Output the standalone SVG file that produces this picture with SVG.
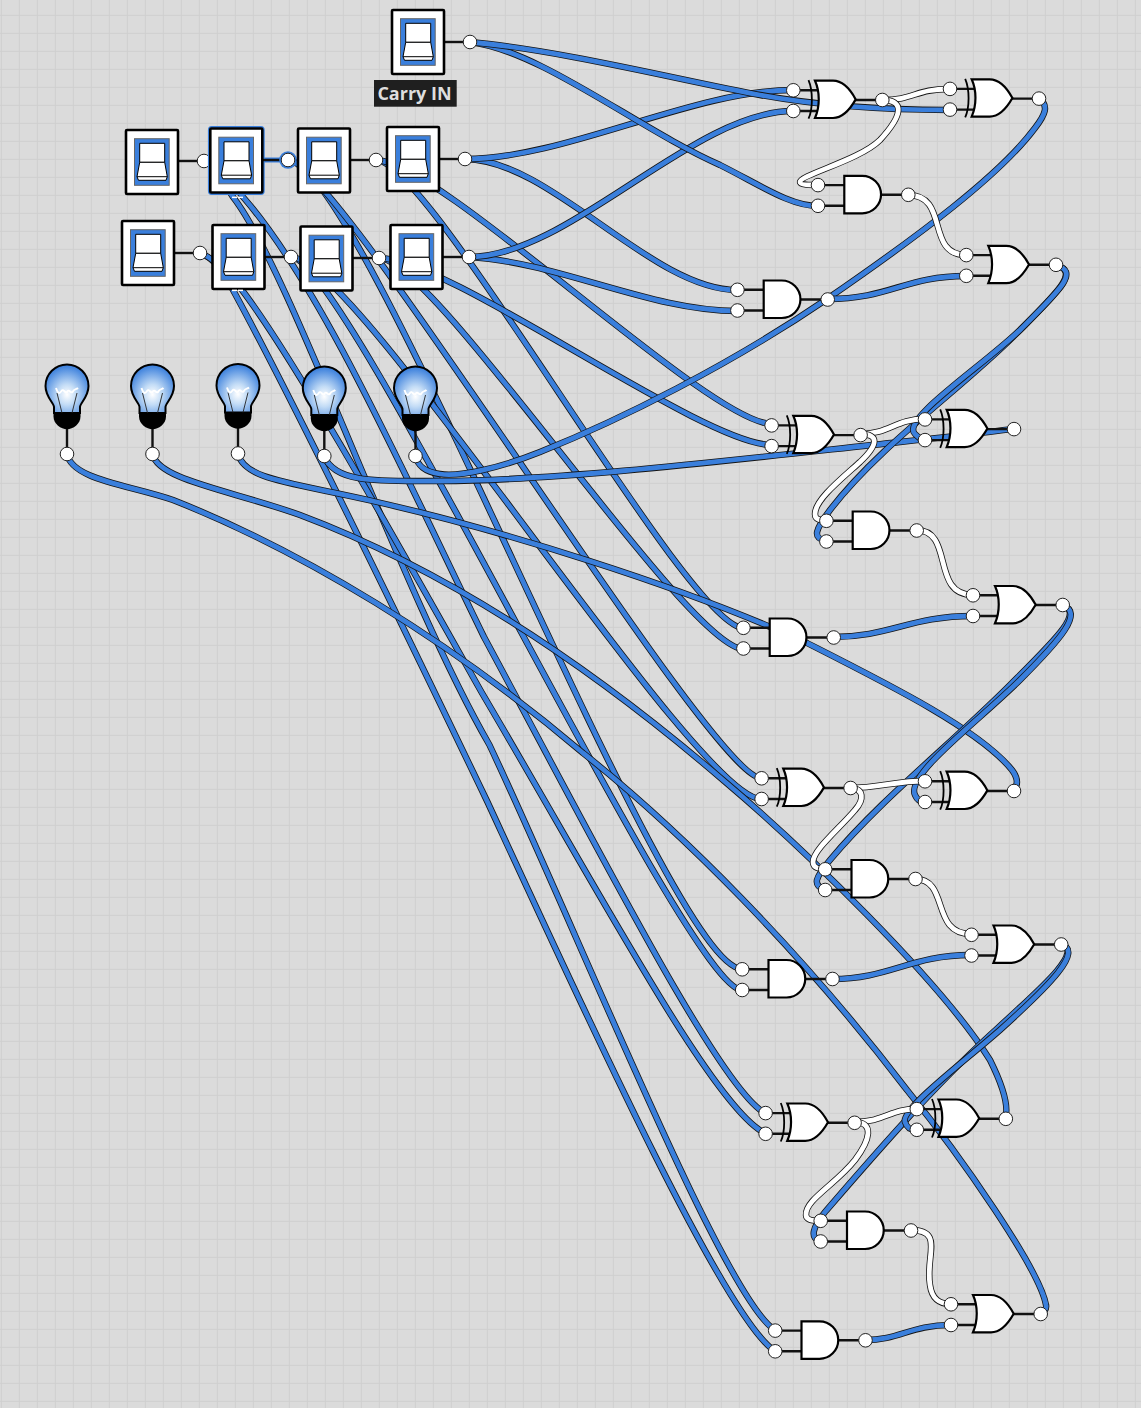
<svg xmlns="http://www.w3.org/2000/svg" width="1141" height="1408" viewBox="0 0 1141 1408">
<style>
.o{fill:none;stroke:#141414;stroke-width:6.4}
.b{fill:none;stroke:#3a7fdc;stroke-width:4.8}
.w{fill:none;stroke:#fff;stroke-width:4.8}
.lead{stroke:#111;stroke-width:2.4;fill:none}
.port{fill:#fff;stroke:#222;stroke-width:1}
.gate{fill:#fff;stroke:#000;stroke-width:2.2;stroke-linejoin:miter}
.arc{fill:none;stroke:#000;stroke-width:1.8}
.box{fill:#fff;stroke:#000;stroke-width:2.6}
.panel{fill:#3a7fdc;stroke:#666;stroke-width:1}
.rock{fill:#fff;stroke:#000;stroke-width:1}
.fil{fill:none;stroke:#fff;stroke-width:1.9}
.thin{fill:none;stroke:#222;stroke-width:.9}
.label{font-family:"Open Sans","DejaVu Sans",sans-serif;font-size:18px;font-weight:700;fill:#dedede;text-anchor:middle}
</style>
<defs>
<pattern id="grid" x="0.8" y="14.8" width="18" height="18" patternUnits="userSpaceOnUse"><path d="M.5,0V18M0,.5H18" stroke="#cfcfcf" stroke-width="1" fill="none"/></pattern>
<radialGradient id="glow" cx=".5" cy=".62" r=".6"><stop offset="0" stop-color="#fff"/><stop offset=".35" stop-color="#c3dcf6"/><stop offset="1" stop-color="#3a7fdc"/></radialGradient>
<g id="switch"><rect class="box" x="0" y="0" width="52" height="64" rx="1"/><rect class="panel" x="8.500" y="8.700" width="34.700" height="46.600"/><path class="rock" d="M13.700,13.300H38.700V32.300H13.700Z"/><path class="rock" d="M13.700,32.300H38.700L41.300,46.700L40,50.300H12.500L11,46.700Z"/><path class="rock" d="M11,46.700H41.300"/></g>
<g id="bulb"><path class="lead" d="M0,0V-28"/><path d="M-13,-41V-47C-13,-51 -21.500,-57 -21.500,-68A21.500,21.500 0 1 1 21.500,-68C21.500,-57 13,-51 13,-47V-41Z" fill="url(#glow)" stroke="#000" stroke-width="2"/><path d="M-13.500,-41H13.500V-37.500C13.500,-30 6,-24.700 0,-24.700C-6,-24.700 -13.500,-30 -13.500,-37.500Z" fill="#000"/><path class="thin" d="M-10,-61L-5,-41M10,-61L5,-41"/><path class="fil" d="M-11,-66C-9,-60 -7.500,-60 -5.500,-63C-3.500,-66 -2,-60 0,-62C2,-66 3.500,-60 5.500,-62C7.500,-66 9,-64 11,-66"/><circle class="port" cx="0" cy="0" r="6.800"/></g>
<g id="and"><path class="lead" d="M-26,9.300H0M-26,30H0M37,19H64"/><path class="gate" d="M0,0H18A18.750,18.750 0 0 1 18,37.500H0Z"/><circle class="port" cx="-26.300" cy="9.300" r="6.800"/><circle class="port" cx="-26.300" cy="30" r="6.800"/><circle class="port" cx="64" cy="19" r="6.800"/></g>
<g id="or"><path class="lead" d="M-22,9.300H4M-22,30H4M40,19H67.700"/><path class="gate" d="M0,0H18C28,0 36,10 40.700,18.700C36,27 28,37.300 18,37.300H0C5,26 5,11 0,0Z"/><circle class="port" cx="-22" cy="9.300" r="6.800"/><circle class="port" cx="-22" cy="30" r="6.800"/><circle class="port" cx="67.700" cy="19" r="6.800"/></g>
<g id="xor"><path class="lead" d="M-21.700,9.600H4M-21.700,30.300H4M40,19.300H67.300"/><path class="arc" d="M-6.500,-.5C-2,10 -2,28 -6.500,38"/><path class="gate" d="M0,0H18C28,0 36,10 40.700,18.700C36,27 28,37.300 18,37.300H0C5,26 5,11 0,0Z"/><circle class="port" cx="-21.700" cy="9.600" r="6.800"/><circle class="port" cx="-21.700" cy="30.300" r="6.800"/><circle class="port" cx="67.300" cy="19.300" r="6.800"/></g>
<path id="c1" d="M470,42C560,50 680,80 760,95C820,106 880,110 949,110"/>
<path id="c2" d="M470,42C540,50 640,130 720,165C760,185 790,206 818,206"/>
<path id="a1" d="M204,161C216,165 225,186 233,197C290,270 400,590 489.500,745C580,937 725,1300 775,1330"/>
<path id="a2" d="M204,161C220,165 232,183 243,197C320,285 400,465 484,637C592,837 720,1090 765,1113"/>
<path id="a3" d="M200,253C215,258 225,275 233,290C290,395 400,620 487.500,802C580,1002 725,1320 775,1351"/>
<path id="a4" d="M200,253C215,258 230,277 242,290C295,360 390,530 482,693C600,893 715,1110 765,1133"/>
<path id="a5" d="M288,160C338,160 711,778 761,778"/>
<path id="a6" d="M288,160C363,160 667,969 742,969"/>
<path id="a7" d="M291,257C356,257 696,799 761,799"/>
<path id="a8" d="M291,257C346,257 687,990 742,990"/>
<path id="a9" d="M376,160C439,160 709,424 772,424"/>
<path id="a10" d="M376,160C431,160 688,628 743.500,628"/>
<path id="a11" d="M379,258C449,258 702,445 772,445"/>
<path id="a12" d="M379,258C434,258 688,649 743.500,649"/>
<path id="a13" d="M465,159C565,159 693,90 793,90"/>
<path id="a14" d="M465,159C550,159 652,290 737,290"/>
<path id="a15" d="M469,257C569,257 693,111 793,111"/>
<path id="a16" d="M469,257C559,262 650,311 737,311"/>
<path id="s1" d="M828,299C890,299 905,276 966,276"/>
<path id="s2" d="M833,637C890,637 910,616 973,616"/>
<path id="s3" d="M832,979C890,979 910,955 971,955"/>
<path id="s4" d="M865,1340C900,1340 910,1325 951,1325"/>
<path id="r1" d="M1038,98C1050,105 1045,115 1035,128C1000,175 920,235 827,299C730,365 620,420 540,452C500,468 460,477 440,474C425,472 417,465 416,456"/>
<path id="r2" d="M1014,428C1022,428 1000,431 900,442C750,458 560,481 440,481C380,481 335,484 324,456"/>
<path id="r3" d="M238,454C245,480 290,482 377,502C500,530 680,585 807,643C890,685 980,730 1012,770C1018,778 1018,785 1014,790"/>
<path id="r4" d="M152.500,454C158,480 230,490 300,515C420,560 560,640 723,780C800,845 940,980 990,1060C1000,1080 1010,1105 1005,1119"/>
<path id="r5" d="M67,454C72,480 130,485 173,500C300,550 450,640 583,753C680,830 800,950 907,1090C960,1155 1040,1270 1046,1305C1047,1310 1044,1312 1040,1314"/>
<path id="k1" d="M1056,265C1080,272 1060,290 1020,330C980,368 900,420 915,434C918,437 920,439 925,439"/>
<path id="k2" d="M1056,265C1080,272 1058,292 1015,335C960,390 880,445 830,510C815,530 812,538 826,541"/>
<path id="k3" d="M1062,605C1085,612 1060,640 1020,680C980,720 905,775 915,795C917,800 920,802 925,802"/>
<path id="k4" d="M1062,605C1085,612 1055,640 1010,685C950,745 880,800 830,860C815,878 812,885 825,890"/>
<path id="k5" d="M1060,944C1085,950 1050,985 1000,1030C960,1065 900,1110 905,1122C907,1128 910,1130 916,1130"/>
<path id="k6" d="M1060,944C1085,950 1045,985 990,1035C930,1090 870,1160 825,1212C812,1228 810,1238 820,1241"/>
<path id="q1" d="M882,100C915,100 915,89 949,89"/>
<path id="q2" d="M882,100C905,100 903,115 880,140C860,160 800,175 800,182C800,185 810,185 818,185"/>
<path id="q3" d="M908,195C950,195 925,255 966,255"/>
<path id="q4" d="M860,434C890,434 895,419 925,419"/>
<path id="q5" d="M860,434C880,434 878,445 860,462C840,480 815,500 815,514C815,520 820,520 826,520"/>
<path id="q6" d="M916,530C955,530 930,595 973,595"/>
<path id="q7" d="M849,788C880,788 895,781 925,781"/>
<path id="q8" d="M849,788C865,788 864,800 855,810C840,828 813,850 813,862C813,868 818,869 825,869"/>
<path id="q9" d="M915,879C950,879 930,934 971,934"/>
<path id="q10" d="M854,1122C885,1122 890,1109 916,1109"/>
<path id="q11" d="M854,1122C875,1122 870,1140 855,1160C835,1185 805,1200 806,1215C806,1220 812,1221 820,1221"/>
<path id="q12" d="M910,1230C945,1230 925,1255 930,1285C932,1300 940,1304 951,1304"/>
</defs>
<rect width="1141" height="1408" fill="#dbdbdb"/>
<rect width="1141" height="1408" fill="url(#grid)"/>
<g id="connectors">
<use href="#a3" class="o"/><use href="#a3" class="b"/>
<use href="#a1" class="o"/><use href="#a1" class="b"/>
<use href="#a4" class="o"/><use href="#a4" class="b"/>
<use href="#a2" class="o"/><use href="#a2" class="b"/>
<use href="#a8" class="o"/><use href="#a8" class="b"/>
<use href="#a6" class="o"/><use href="#a6" class="b"/>
<use href="#a7" class="o"/><use href="#a7" class="b"/>
<use href="#a5" class="o"/><use href="#a5" class="b"/>
<use href="#a12" class="o"/><use href="#a12" class="b"/>
<use href="#a10" class="o"/><use href="#a10" class="b"/>
<use href="#a11" class="o"/><use href="#a11" class="b"/>
<use href="#a9" class="o"/><use href="#a9" class="b"/>
<use href="#r5" class="o"/><use href="#r5" class="b"/>
<use href="#r4" class="o"/><use href="#r4" class="b"/>
<use href="#r3" class="o"/><use href="#r3" class="b"/>
<use href="#r2" class="o"/><use href="#r2" class="b"/>
<use href="#r1" class="o"/><use href="#r1" class="b"/>
<use href="#a16" class="o"/><use href="#a16" class="b"/>
<use href="#a14" class="o"/><use href="#a14" class="b"/>
<use href="#a15" class="o"/><use href="#a15" class="b"/>
<use href="#a13" class="o"/><use href="#a13" class="b"/>
<use href="#c2" class="o"/><use href="#c2" class="b"/>
<use href="#c1" class="o"/><use href="#c1" class="b"/>
<use href="#s1" class="o"/><use href="#s1" class="b"/>
<use href="#s2" class="o"/><use href="#s2" class="b"/>
<use href="#s3" class="o"/><use href="#s3" class="b"/>
<use href="#s4" class="o"/><use href="#s4" class="b"/>
<use href="#k2" class="o"/><use href="#k2" class="b"/>
<use href="#k1" class="o"/><use href="#k1" class="b"/>
<use href="#k4" class="o"/><use href="#k4" class="b"/>
<use href="#k3" class="o"/><use href="#k3" class="b"/>
<use href="#k6" class="o"/><use href="#k6" class="b"/>
<use href="#k5" class="o"/><use href="#k5" class="b"/>
<use href="#q1" class="o"/><use href="#q1" class="w"/>
<use href="#q2" class="o"/><use href="#q2" class="w"/>
<use href="#q3" class="o"/><use href="#q3" class="w"/>
<use href="#q4" class="o"/><use href="#q4" class="w"/>
<use href="#q5" class="o"/><use href="#q5" class="w"/>
<use href="#q6" class="o"/><use href="#q6" class="w"/>
<use href="#q7" class="o"/><use href="#q7" class="w"/>
<use href="#q8" class="o"/><use href="#q8" class="w"/>
<use href="#q9" class="o"/><use href="#q9" class="w"/>
<use href="#q10" class="o"/><use href="#q10" class="w"/>
<use href="#q11" class="o"/><use href="#q11" class="w"/>
<use href="#q12" class="o"/><use href="#q12" class="w"/>
</g>
<g id="switch-carry"><path class="lead" d="M444,42H470"/><use href="#switch" x="392" y="10"/><circle class="port" cx="470" cy="42" r="6.800"/><rect x="374" y="80" width="82.700" height="26.700" fill="#1f1f1f"/><text class="label" x="414.500" y="99.500">Carry IN</text></g>
<g id="switch-a3"><path class="lead" d="M178,161H204"/><circle class="port" cx="204" cy="161" r="6.800"/><use href="#switch" x="126" y="130"/></g>
<g id="switch-a2"><path d="M262,160H288" stroke="#3a7fdc" stroke-width="5" fill="none"/><rect x="210.300" y="128.500" width="52" height="64" rx="1.500" fill="none" stroke="#3a7fdc" stroke-width="4.800"/><path class="lead" d="M262,160H288"/><circle cx="288" cy="160" r="8.800" fill="#3a7fdc"/><use href="#switch" x="210.300" y="128.500"/><circle class="port" cx="288" cy="160" r="6.800"/></g>
<g id="switch-a1"><path class="lead" d="M350,160H376"/><use href="#switch" x="298" y="128.500"/><circle class="port" cx="376" cy="160" r="6.800"/></g>
<g id="switch-a0"><path class="lead" d="M439,159H465"/><use href="#switch" x="387" y="127"/><circle class="port" cx="465" cy="159" r="6.800"/></g>
<g id="switch-b3"><path class="lead" d="M174,253H200"/><use href="#switch" x="122" y="221"/><circle class="port" cx="200" cy="253" r="6.800"/></g>
<g id="switch-b2"><path class="lead" d="M264,257H291"/><use href="#switch" x="212.500" y="225"/><circle class="port" cx="291" cy="257" r="6.800"/></g>
<g id="switch-b1"><path class="lead" d="M352,258H379"/><use href="#switch" x="300.500" y="226.500"/><circle class="port" cx="379" cy="258" r="6.800"/></g>
<g id="switch-b0"><path class="lead" d="M442,257H469"/><use href="#switch" x="390.500" y="225"/><circle class="port" cx="469" cy="257" r="6.800"/></g>
<g fill="#fff"><rect x="232" y="196.600" width="5" height="1.500"/><rect x="238" y="196.600" width="5" height="1.500"/><rect x="232" y="289.600" width="5" height="1.500"/><rect x="238" y="289.600" width="5" height="1.500"/></g>
<g id="bulb-1"><use href="#bulb" x="67" y="454"/></g>
<g id="bulb-2"><use href="#bulb" x="152.500" y="454"/></g>
<g id="bulb-3"><use href="#bulb" x="238" y="453.500"/></g>
<g id="bulb-4"><use href="#bulb" x="324.300" y="456"/></g>
<g id="bulb-5"><use href="#bulb" x="415.500" y="456"/></g>
<g id="xor1"><use href="#xor" x="815" y="80.700"/></g>
<g id="xor2"><use href="#xor" x="971.700" y="79.300"/></g>
<g id="and1"><use href="#and" x="844.300" y="175.800"/></g>
<g id="and2"><use href="#and" x="763.700" y="280.500"/></g>
<g id="or1"><use href="#or" x="988.300" y="245.800"/></g>
<g id="xor3"><use href="#xor" x="793.300" y="415.800"/></g>
<g id="xor4"><use href="#xor" x="946.700" y="409.800"/></g>
<g id="and3"><use href="#and" x="852.700" y="511.500"/></g>
<g id="or2"><use href="#or" x="995" y="586"/></g>
<g id="and4"><use href="#and" x="769.700" y="618.500"/></g>
<g id="xor5"><use href="#xor" x="783.300" y="768.700"/></g>
<g id="xor6"><use href="#xor" x="946.700" y="771.700"/></g>
<g id="and5"><use href="#and" x="851.500" y="860"/></g>
<g id="or3"><use href="#or" x="993.500" y="925.500"/></g>
<g id="and6"><use href="#and" x="768.500" y="960"/></g>
<g id="xor7"><use href="#xor" x="787.300" y="1103.500"/></g>
<g id="xor8"><use href="#xor" x="938.500" y="1099.500"/></g>
<g id="and7"><use href="#and" x="847" y="1211.500"/></g>
<g id="or4"><use href="#or" x="973" y="1295"/></g>
<g id="and8"><use href="#and" x="801.500" y="1321.300"/></g>
</svg>
